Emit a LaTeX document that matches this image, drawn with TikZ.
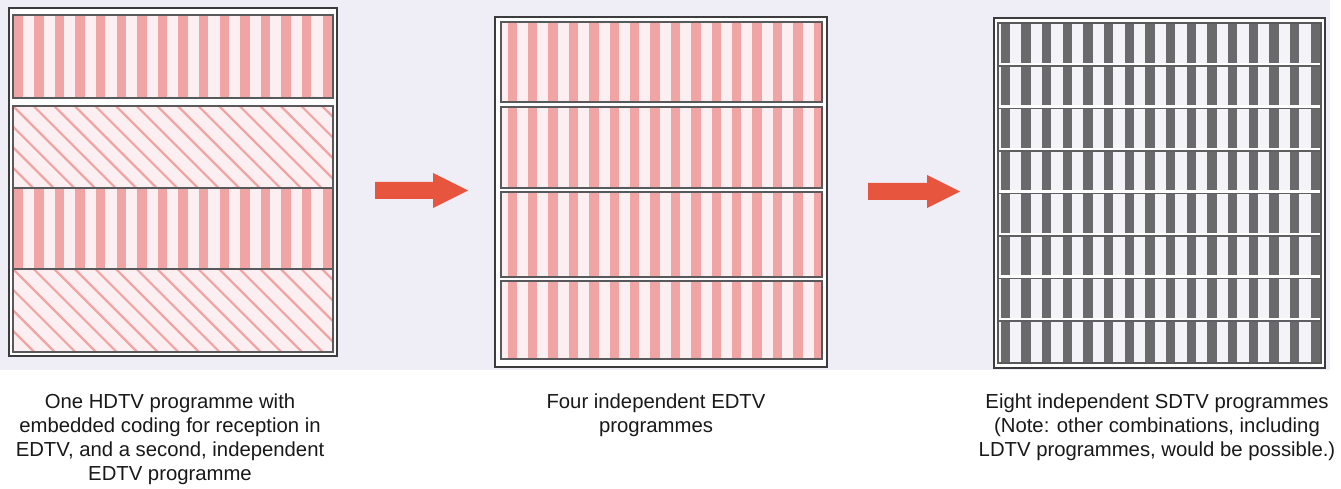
\documentclass[tikz,border=0pt]{standalone}
\usepackage{fontspec}
\setmainfont{Liberation Sans}
\definecolor{bgc}{HTML}{EFEEF6}
\definecolor{pinks}{HTML}{F1A4A4}
\definecolor{pinkw}{HTML}{FCEFF2}
\definecolor{grays}{HTML}{6A6A6C}
\definecolor{grayw}{HTML}{F3F3F8}
\definecolor{framec}{HTML}{3C3C3E}
\definecolor{arrowc}{HTML}{E8553F}
\tikzset{
  frame/.style={draw=framec, line width=2pt},
  bandline/.style={draw=framec!85, line width=1.2pt},
  caption/.style={anchor=north, inner sep=0pt, align=center, text=black!90, font=\fontsize{20.3}{24}\selectfont},
  redarrow/.style={fill=arrowc}
}
\begin{document}
\begin{tikzpicture}[x=1pt,y=-1pt]
\useasboundingbox (0,0) rectangle (1341,489);
\fill[white] (0,0) rectangle (1341,489);
\fill[bgc] (0,0) rectangle (1330,370);

% ---------- Panel 1 ----------
\draw[frame, fill=white] (8.5,8.5) rectangle (337,356);
% stripe bands
\foreach \ya/\yb in {15/98, 188/269}{
  \fill[pinkw] (13,\ya) rectangle (333,\yb);
  \begin{scope}
    \clip (13,\ya) rectangle (333,\yb);
    \foreach \i in {0,...,15}
      \fill[pinks] ({13.5+\i*20.6},\ya) rectangle ++(9.5,{\yb-\ya});
  \end{scope}
}
% diagonal bands
\foreach \ya/\yb in {106/188, 269/352}{
  \fill[pinkw] (13,\ya) rectangle (333,\yb);
  \begin{scope}
    \clip (13,\ya) rectangle (333,\yb);
    \foreach \i in {-5,...,16}
      \draw[pinks, line width=2.2pt] ({13+\i*20.6},\ya) -- ++(92,92);
  \end{scope}
}
\draw[bandline] (13,15) rectangle (333,98);
\draw[bandline] (13,106) rectangle (333,352);
\draw[bandline] (13,188) -- (333,188);
\draw[bandline] (13,269) -- (333,269);

% ---------- Arrow 1 ----------
\fill[redarrow] (375,182) -- (433,182) -- (433,173) -- (468,190.5) -- (433,208) -- (433,199) -- (375,199) -- cycle;

% ---------- Panel 2 ----------
\draw[frame, fill=white] (495,17) rectangle (827,367);
\foreach \ya/\yb in {22/102, 107/188, 192/277, 281/359}{
  \fill[pinkw] (501,\ya) rectangle (822,\yb);
  \begin{scope}
    \clip (501,\ya) rectangle (822,\yb);
    \foreach \i in {0,...,15}
      \fill[pinks] ({507.5+\i*20.4},\ya) rectangle ++(9.5,{\yb-\ya});
  \end{scope}
  \draw[bandline] (501,\ya) rectangle (822,\yb);
}

% ---------- Arrow 2 ----------
\fill[redarrow] (868,183) -- (927,183) -- (927,175) -- (960,191.5) -- (927,208) -- (927,200) -- (868,200) -- cycle;

% ---------- Panel 3 ----------
\draw[frame, fill=white] (994,18) rectangle (1325,368);
\fill[grayw] (998,23) rectangle (1321,363);
\begin{scope}
  \clip (998,23) rectangle (1321,363);
  \foreach \i in {0,...,15}
    \fill[grays] ({1000.5+\i*20.67},23) rectangle ++(9.5,340);
\end{scope}
\foreach \k in {1,...,7}{
  \draw[white, line width=2.2pt] (998,{23+\k*42.5-1.5}) -- (1321,{23+\k*42.5-1.5});
  \draw[grays!90!black, line width=1.3pt] (998,{23+\k*42.5+0.5}) -- (1321,{23+\k*42.5+0.5});
}
\draw[bandline] (998,23) rectangle (1321,363);

% ---------- Captions ----------
\node[caption] (c1) at (170,394) {One HDTV programme with\\embedded coding for reception in\\EDTV, and a second, independent\\EDTV programme};
\node[caption] (c2) at (656,394) {Four independent EDTV\\programmes};
\node[caption] (c3) at (1157,394) {Eight independent SDTV programmes\\(Note: other combinations, including\\LDTV programmes, would be possible.)};
\end{tikzpicture}
\end{document}
